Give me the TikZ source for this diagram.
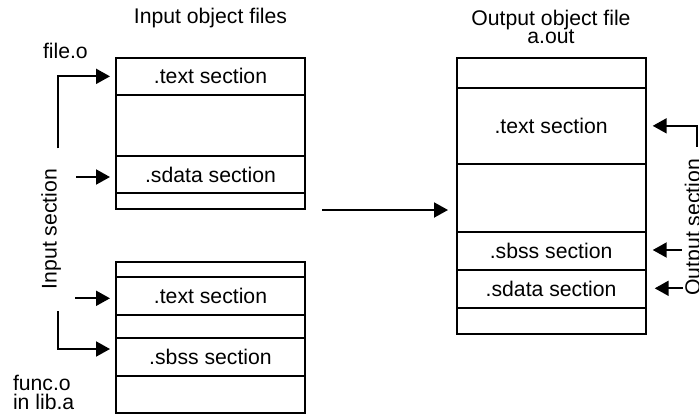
\documentclass[tikz,border=0pt]{standalone}
\usepackage{fontspec}
\setmainfont{Liberation Sans}
\usetikzlibrary{arrows.meta}
\begin{document}
\begin{tikzpicture}[x=0.5pt,y=-0.5pt,
  every node/.style={font=\fontsize{10.6pt}{12pt}\selectfont, inner sep=0pt, outer sep=0pt},
  secrow/.style={draw, line width=1pt, rectangle, anchor=north west, minimum width=94.5pt, minimum height=#1},
  osecrow/.style={secrow=#1, minimum width=94.4pt},
  arr/.style={line width=1pt, -{Triangle[length=7pt,width=7.5pt]}},
  lbl/.style={anchor=base},
  lbll/.style={anchor=base west}
]
\useasboundingbox (0,0) rectangle (699,417);

% titles
\node[lbl] (intitle) at (210.5,24) {Input object files};
\node[lbl] (outtitle) at (551,25.5) {Output object file};
\node[lbl] (aout) at (551,43.5) {a.out};
\node[lbll] (fileo) at (43,58.3) {file.o};
\node[lbll] (funco) at (13,390.5) {func.o};
\node[lbll] (inliba) at (13,409.5) {in lib.a};

% input file.o
\node[secrow=18.65pt] (r1) at (116,57.7) {.text section};
\node[secrow=30.35pt] (r2) at (r1.south west) {};
\node[secrow=18.8pt] (r3) at (r2.south west) {.sdata section};
\node[secrow=7.6pt] (r4) at (r3.south west) {};

% input func.o
\node[secrow=7.5pt] (b1) at (116,261.7) {};
\node[secrow=18.9pt] (b2) at (b1.south west) {.text section};
\node[secrow=11.75pt] (b3) at (b2.south west) {};
\node[secrow=18.85pt] (b4) at (b3.south west) {.sbss section};
\node[secrow=18.5pt] (b5) at (b4.south west) {};

% output a.out
\node[osecrow=15pt] (o1) at (456.7,57.7) {};
\node[osecrow=38.15pt] (o2) at (o1.south west) {.text section};
\node[osecrow=33.85pt] (o3) at (o2.south west) {};
\node[osecrow=19.15pt] (o4) at (o3.south west) {.sbss section};
\node[osecrow=18.85pt] (o5) at (o4.south west) {.sdata section};
\node[osecrow=13.3pt] (o6) at (o5.south west) {};

% side labels
\node[lbl, rotate=90] (insec) at (56.5,229) {Input section};
\node[lbl, rotate=90] (outsec) at (700,227.3) {Output section};

% input arrows
\coordinate (c1) at (57.7,148.3);
\draw[arr, shorten >=3pt] (c1) |- (r1.west);
\coordinate (c2) at (76,177);
\draw[arr, shorten >=3pt] (c2) -- (c2 -| r3.west);
\coordinate (c3) at (75,298.3);
\draw[arr, shorten >=3pt] (c3) -- (c3 -| b2.west);
\coordinate (c4) at (57.7,311);
\draw[arr, shorten >=3pt] (c4) |- ([yshift=-5.5pt]b4.north west);

% middle arrow
\coordinate (m1) at (322,210);
\coordinate (m2) at (448,210);
\draw[arr] (m1) -- (m2);

% output arrows
\coordinate (c5) at (696.7,146.7);
\draw[arr, shorten >=3.6pt] (c5) |- (o2.east);
\coordinate (c6) at (681.7,250);
\draw[arr, shorten >=3.6pt] (c6) -- (c6 -| o4.east);
\coordinate (c7) at (683,288.3);
\draw[arr, shorten >=4.6pt] (c7) -- (c7 -| o5.east);
\end{tikzpicture}
\end{document}
